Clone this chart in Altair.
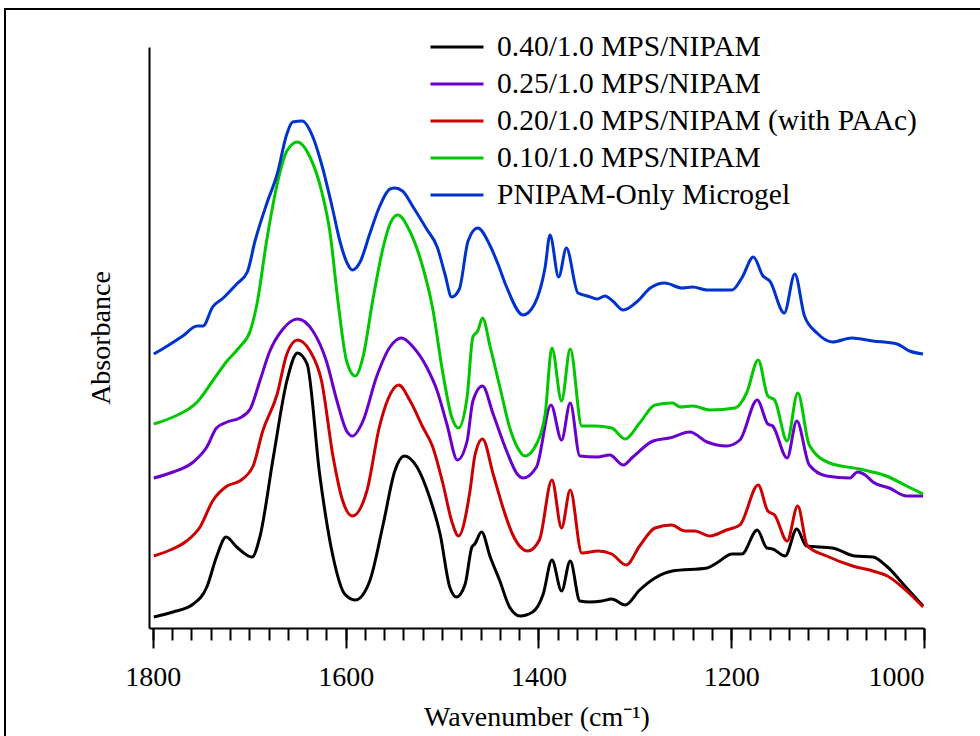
import altair as alt
import pandas as pd

series_names = [
    "0.40/1.0 MPS/NIPAM",
    "0.25/1.0 MPS/NIPAM",
    "0.20/1.0 MPS/NIPAM (with PAAc)",
    "0.10/1.0 MPS/NIPAM",
    "PNIPAM-Only Microgel",
]
series_colors = ["#000000", "#6a00cc", "#cc0000", "#00c800", "#0033cc"]

# ---- 0.40/1.0 MPS/NIPAM (black)
wn_black = [1799, 1779, 1758, 1744, 1734, 1724, 1713, 1697, 1689, 1675, 1661, 1650, 1640,
            1627, 1613, 1601, 1590, 1575, 1561, 1549, 1539, 1526, 1513, 1502, 1492, 1485,
            1476, 1469, 1466, 1459, 1450, 1440, 1430, 1419, 1406, 1395, 1386, 1376, 1367,
            1357, 1347, 1334, 1324, 1310, 1295, 1279, 1261, 1225, 1215, 1199, 1189, 1173,
            1163, 1157, 1144, 1132, 1122, 1095, 1072, 1053, 1039, 1018, 1001]
ab_black = [0.11, 0.16, 0.24, 0.41, 0.71, 0.91, 0.81, 0.71, 0.91, 1.71, 2.47, 2.75, 2.64,
            1.54, 0.71, 0.34, 0.28, 0.47, 1.04, 1.57, 1.72, 1.61, 1.31, 0.94, 0.41, 0.31,
            0.44, 0.81, 0.84, 0.96, 0.71, 0.47, 0.21, 0.12, 0.16, 0.34, 0.68, 0.37, 0.67,
            0.27, 0.26, 0.27, 0.29, 0.23, 0.38, 0.50, 0.57, 0.60, 0.65, 0.74, 0.74, 0.98,
            0.80, 0.79, 0.72, 0.99, 0.82, 0.80, 0.72, 0.71, 0.62, 0.40, 0.22]

# ---- 0.25/1.0 MPS/NIPAM (purple)
wn_purple = [1799, 1779, 1758, 1744, 1734, 1723, 1710, 1699, 1689, 1679, 1665, 1650, 1634,
             1620, 1609, 1599, 1593, 1582, 1568, 1554, 1542, 1530, 1516, 1505, 1495, 1484,
             1474, 1468, 1458, 1447, 1433, 1422, 1416, 1402, 1387, 1376, 1367, 1357, 1339,
             1326, 1312, 1302, 1281, 1264, 1243, 1225, 1205, 1191, 1173, 1162, 1157, 1142,
             1132, 1119, 1101, 1077, 1069, 1061, 1053, 1036, 1018, 1001]
ab_purple = [1.50, 1.56, 1.66, 1.81, 2.00, 2.06, 2.10, 2.19, 2.47, 2.76, 2.99, 3.09, 2.97,
             2.67, 2.27, 1.97, 1.92, 2.07, 2.51, 2.81, 2.90, 2.81, 2.61, 2.37, 2.04, 1.68,
             1.87, 2.27, 2.42, 2.14, 1.77, 1.54, 1.50, 1.61, 2.23, 1.88, 2.25, 1.72, 1.71,
             1.73, 1.63, 1.71, 1.87, 1.90, 1.96, 1.86, 1.82, 1.88, 2.28, 2.04, 2.02, 1.70,
             2.07, 1.63, 1.52, 1.50, 1.56, 1.53, 1.46, 1.40, 1.32, 1.32]

# ---- 0.20/1.0 MPS/NIPAM (with PAAc) (red)
wn_red = [1799, 1782, 1765, 1751, 1738, 1723, 1710, 1696, 1686, 1671, 1661, 1650, 1637,
          1625, 1613, 1603, 1593, 1578, 1565, 1556, 1545, 1533, 1520, 1510, 1499, 1490,
          1483, 1471, 1466, 1458, 1447, 1437, 1427, 1411, 1399, 1386, 1376, 1367, 1355,
          1338, 1324, 1309, 1295, 1279, 1262, 1248, 1238, 1222, 1205, 1191, 1172, 1162,
          1155, 1142, 1131, 1121, 1101, 1074, 1053, 1038, 1018, 1001]
ab_red = [0.72, 0.78, 0.87, 1.01, 1.27, 1.42, 1.47, 1.62, 1.97, 2.34, 2.74, 2.88, 2.77,
          2.47, 1.71, 1.27, 1.12, 1.37, 2.01, 2.29, 2.43, 2.27, 2.01, 1.82, 1.44, 1.07,
          0.92, 1.37, 1.72, 1.89, 1.54, 1.21, 0.94, 0.77, 0.88, 1.48, 1.00, 1.38, 0.75,
          0.77, 0.74, 0.63, 0.82, 1.00, 1.03, 0.97, 0.97, 0.92, 0.98, 1.03, 1.43, 1.17,
          1.13, 0.87, 1.22, 0.82, 0.72, 0.62, 0.57, 0.52, 0.37, 0.21]

# ---- 0.10/1.0 MPS/NIPAM (green)
wn_green = [1799, 1779, 1754, 1738, 1723, 1710, 1699, 1692, 1682, 1671, 1661, 1650, 1637,
            1625, 1616, 1608, 1599, 1590, 1582, 1572, 1561, 1554, 1546, 1533, 1520, 1510,
            1499, 1490, 1483, 1474, 1468, 1463, 1458, 1450, 1440, 1430, 1422, 1414, 1402,
            1393, 1386, 1376, 1367, 1355, 1341, 1324, 1310, 1295, 1279, 1261, 1253, 1240,
            1222, 1196, 1184, 1172, 1162, 1155, 1142, 1131, 1119, 1098, 1067, 1039, 1018, 1001]
ab_green = [2.04, 2.11, 2.26, 2.47, 2.67, 2.81, 2.97, 3.24, 3.87, 4.44, 4.77, 4.86, 4.71,
            4.37, 3.94, 3.27, 2.67, 2.52, 2.71, 3.27, 3.81, 4.04, 4.13, 3.96, 3.61, 3.21,
            2.54, 2.11, 2.00, 2.31, 2.91, 2.97, 3.10, 2.81, 2.41, 2.01, 1.81, 1.72, 1.84,
            2.14, 2.80, 2.27, 2.79, 2.02, 2.02, 2.00, 1.89, 2.05, 2.23, 2.25, 2.21, 2.22,
            2.18, 2.20, 2.35, 2.68, 2.32, 2.28, 1.87, 2.35, 1.83, 1.65, 1.59, 1.52, 1.42, 1.34]

# ---- PNIPAM-Only Microgel (blue)
wn_blue = [1799, 1785, 1769, 1754, 1748, 1738, 1727, 1713, 1702, 1694, 1682, 1671, 1661,
           1655, 1645, 1634, 1625, 1614, 1606, 1599, 1593, 1585, 1575, 1565, 1554, 1549,
           1541, 1530, 1516, 1505, 1497, 1490, 1482, 1473, 1463, 1450, 1442, 1433, 1416,
           1404, 1393, 1388, 1379, 1371, 1359, 1349, 1339, 1331, 1323, 1312, 1297, 1284,
           1269, 1251, 1240, 1225, 1210, 1199, 1189, 1177, 1167, 1160, 1145, 1134, 1124,
           1111, 1095, 1075, 1053, 1028, 1015, 1001]
ab_blue = [2.74, 2.82, 2.92, 3.02, 3.02, 3.21, 3.30, 3.44, 3.56, 3.87, 4.24, 4.54, 4.94,
           5.06, 5.07, 4.91, 4.64, 4.21, 3.87, 3.66, 3.58, 3.66, 3.94, 4.21, 4.39, 4.40,
           4.37, 4.21, 3.99, 3.81, 3.54, 3.31, 3.39, 3.87, 4.00, 3.82, 3.64, 3.41, 3.13,
           3.24, 3.61, 3.93, 3.51, 3.80, 3.35, 3.32, 3.29, 3.32, 3.27, 3.18, 3.27, 3.40,
           3.45, 3.40, 3.41, 3.38, 3.38, 3.38, 3.50, 3.71, 3.52, 3.47, 3.15, 3.54, 3.12,
           2.95, 2.86, 2.90, 2.87, 2.84, 2.77, 2.74]

all_wn = [wn_black, wn_purple, wn_red, wn_green, wn_blue]
all_ab = [ab_black, ab_purple, ab_red, ab_green, ab_blue]

rows = []
for name, wns, abs_ in zip(series_names, all_wn, all_ab):
    for w, a in zip(wns, abs_):
        rows.append({"series": name, "wn": w, "ab": a})
df = pd.DataFrame(rows)

major_ticks = [1800, 1600, 1400, 1200, 1000]
minor_ticks = list(range(1000, 1801, 20))

FONT = "Liberation Serif"
x_scale = alt.Scale(domain=[1000, 1804], reverse=True, nice=False, zero=False)
y_scale = alt.Scale(domain=[0, 5.81], nice=False, zero=False)

minor_layer = alt.Chart(df).mark_point(opacity=0).encode(
    x=alt.X("wn:Q", scale=x_scale,
            axis=alt.Axis(values=minor_ticks, labels=False, title=None, domain=False,
                          tickSize=12, tickWidth=2, tickColor="black", grid=False,
                          orient="bottom")),
    y=alt.value(0),
)

lines = alt.Chart(df).mark_line(strokeWidth=3, interpolate="monotone").encode(
    x=alt.X("wn:Q", scale=x_scale,
            axis=alt.Axis(values=major_ticks, format="d", title="Wavenumber (cm⁻¹)",
                          tickSize=20, tickWidth=2, tickColor="black",
                          domainColor="black", domainWidth=2, grid=False,
                          labelFont=FONT, labelFontSize=28, labelColor="black",
                          labelPadding=15, titleFont=FONT, titleFontSize=28,
                          titleFontWeight="normal", titleColor="black", titlePadding=12,
                          orient="bottom")),
    y=alt.Y("ab:Q", scale=y_scale,
            axis=alt.Axis(ticks=False, labels=False, title="Absorbance", grid=False,
                          domainColor="black", domainWidth=2, titleFont=FONT,
                          titleFontSize=28, titleFontWeight="normal", titleColor="black",
                          titlePadding=34)),
    color=alt.Color("series:N",
                    scale=alt.Scale(domain=series_names, range=series_colors),
                    legend=alt.Legend(orient="none", legendX=293, legendY=-15, title=None,
                                      symbolType="M-2,0H2", symbolSize=702,
                                      symbolStrokeWidth=3, labelFont=FONT,
                                      labelFontSize=29.5, labelColor="black",
                                      labelOffset=25, labelLimit=0, rowPadding=7)),
    order=alt.Order("wn:Q"),
    detail="series:N",
)

frame = alt.Chart(df).mark_rect(filled=False, stroke="black", strokeWidth=2, clip=False).encode(
    x=alt.value(-144), x2=alt.value(1000), y=alt.value(-38), y2=alt.value(900)
)

chart = alt.layer(minor_layer, lines, frame).resolve_axis(x="independent").properties(
    width=775, height=581,
    background="white",
    autosize=alt.AutoSizeParams(type="none"),
    padding={"left": 149, "top": 47, "right": 56, "bottom": 108},
).configure_view(stroke=None)

chart.save("out.html", embed_options={"renderer": "svg", "actions": False})
